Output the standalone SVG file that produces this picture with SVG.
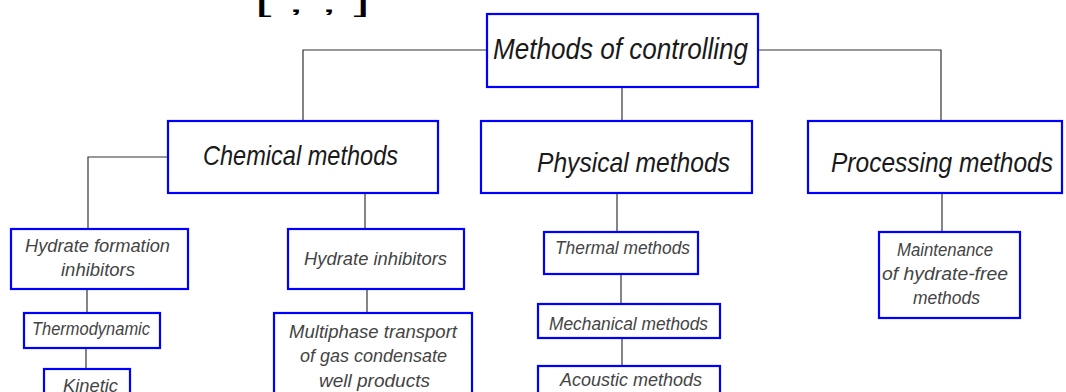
<svg xmlns="http://www.w3.org/2000/svg" width="1066" height="392" viewBox="0 0 1066 392">
<style>
.box{fill:#fff;stroke:#0000ff;stroke-width:2.2}
.con{fill:none;stroke:#333;stroke-width:1.2}
.big{font-family:"Liberation Sans",Arial,sans-serif;font-style:italic;fill:#1a1a1a;font-size:30px}
.mid{font-family:"Liberation Sans",Arial,sans-serif;font-style:italic;fill:#1a1a1a;font-size:28px}
.sm{font-family:"Liberation Sans",Arial,sans-serif;font-style:italic;fill:#444;font-size:19px}
.ref{font-family:"Liberation Sans",Arial,sans-serif;fill:#000;font-size:24px}
</style>
<rect width="1066" height="392" fill="#fff"/>
<text class="ref" x="255" y="12" textLength="115" lengthAdjust="spacingAndGlyphs">[ , , ]</text>
<g id="connectors">
<path class="con" d="M487,50 H303 V121"/>
<path class="con" d="M758,50 H941 V121"/>
<path class="con" d="M622,87 V121"/>
<path class="con" d="M168,157 H88 V229"/>
<path class="con" d="M365,193 V229"/>
<path class="con" d="M87,289 V313"/>
<path class="con" d="M86,348 V369"/>
<path class="con" d="M367,289 V313"/>
<path class="con" d="M617,193 V232"/>
<path class="con" d="M621,274 V304"/>
<path class="con" d="M622,338 V366"/>
<path class="con" d="M942,193 V232"/>
</g>
<g id="root">
<rect class="box" x="487" y="14" width="271" height="73"/>
<text class="big" x="493" y="59" textLength="255" lengthAdjust="spacingAndGlyphs">Methods of controlling</text>
</g>
<g id="chemical">
<rect class="box" x="168" y="121" width="270" height="72"/>
<text class="mid" x="203" y="165" textLength="195" lengthAdjust="spacingAndGlyphs">Chemical methods</text>
</g>
<g id="physical">
<rect class="box" x="481" y="121" width="271" height="72"/>
<text class="mid" x="537" y="172" textLength="193" lengthAdjust="spacingAndGlyphs">Physical methods</text>
</g>
<g id="processing">
<rect class="box" x="808" y="121" width="254" height="72"/>
<text class="mid" x="831" y="172" textLength="222" lengthAdjust="spacingAndGlyphs">Processing methods</text>
</g>
<g id="hfi">
<rect class="box" x="11" y="229" width="177" height="60"/>
<text class="sm" x="25" y="252" textLength="145" lengthAdjust="spacingAndGlyphs">Hydrate formation</text>
<text class="sm" x="61" y="276" textLength="74" lengthAdjust="spacingAndGlyphs">inhibitors</text>
</g>
<g id="thermodynamic">
<rect class="box" x="24" y="313" width="136" height="35"/>
<text class="sm" x="32" y="335" textLength="118" lengthAdjust="spacingAndGlyphs">Thermodynamic</text>
</g>
<g id="kinetic">
<rect class="box" x="44" y="369" width="86" height="40"/>
<text class="sm" x="63" y="392" textLength="55" lengthAdjust="spacingAndGlyphs">Kinetic</text>
</g>
<g id="hi">
<rect class="box" x="288" y="229" width="176" height="60"/>
<text class="sm" x="304" y="265" textLength="143" lengthAdjust="spacingAndGlyphs">Hydrate inhibitors</text>
</g>
<g id="multiphase">
<rect class="box" x="274" y="313" width="198" height="95"/>
<text class="sm" x="289" y="338" textLength="168" lengthAdjust="spacingAndGlyphs">Multiphase transport</text>
<text class="sm" x="300" y="362" textLength="147" lengthAdjust="spacingAndGlyphs">of gas condensate</text>
<text class="sm" x="319" y="387" textLength="111" lengthAdjust="spacingAndGlyphs">well products</text>
</g>
<g id="thermal">
<rect class="box" x="544" y="232" width="154" height="42"/>
<text class="sm" x="555" y="254" textLength="135" lengthAdjust="spacingAndGlyphs">Thermal methods</text>
</g>
<g id="mechanical">
<rect class="box" x="538" y="304" width="182" height="34"/>
<text class="sm" x="549" y="330" textLength="159" lengthAdjust="spacingAndGlyphs">Mechanical methods</text>
</g>
<g id="acoustic">
<rect class="box" x="538" y="366" width="182" height="40"/>
<text class="sm" x="560" y="386" textLength="142" lengthAdjust="spacingAndGlyphs">Acoustic methods</text>
</g>
<g id="maintenance">
<rect class="box" x="879" y="232" width="141" height="86"/>
<text class="sm" x="897" y="256" textLength="96" lengthAdjust="spacingAndGlyphs">Maintenance</text>
<text class="sm" x="882" y="280" textLength="126" lengthAdjust="spacingAndGlyphs">of hydrate-free</text>
<text class="sm" x="913" y="304" textLength="67" lengthAdjust="spacingAndGlyphs">methods</text>
</g>
</svg>
